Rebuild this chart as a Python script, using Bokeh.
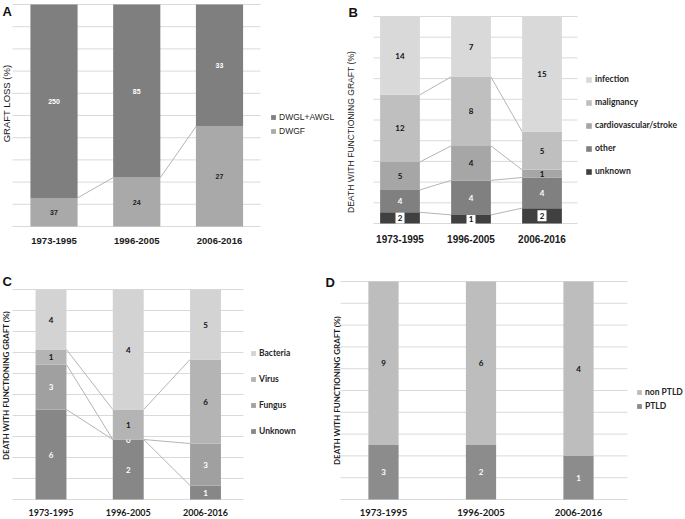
import math
from bokeh.plotting import figure
from bokeh.models import (ColumnDataSource, Range1d, Legend, LegendItem, Label)
from bokeh.layouts import row, column
from bokeh.embed import file_html
from bokeh.resources import INLINE
from bokeh.core.properties import value

# ---------------- data ----------------
periods = ["1973-1995", "1996-2005", "2006-2016"]
grid_ticks = [0, 10, 20, 30, 40, 50, 60, 70, 80, 90, 100]

# Panel A: graft loss
a_dwgf = [37, 24, 27]
a_dwgl_awgl = [250, 85, 33]

# Panel B: death with functioning graft, causes
b_unknown = [2, 1, 2]
b_other = [4, 4, 4]
b_cardio = [5, 4, 1]
b_malignancy = [12, 8, 5]
b_infection = [14, 7, 15]

# Panel C: infections
c_unknown = [6, 2, 1]
c_fungus = [3, 0, 3]
c_virus = [1, 1, 6]
c_bacteria = [4, 4, 5]

# Panel D: malignancy
d_ptld = [3, 2, 1]
d_non_ptld = [9, 6, 4]

ARIAL = "Liberation Sans"
CAL = "Lato"


def panel(letter, ytitle, series, fig, plot, grid_x, bar_w, cat, val, leg, yt,
          letter_pos, connect):
    """fig = (page_x0, page_y0, width, height); plot = (first bar centre x,
    bar spacing, top y, bottom y) in page pixels."""
    fx0, fy0, fw, fh = fig
    c0, sp, pt, pb = plot
    n = len(periods)
    idx = list(range(n))
    ppu = (pb - pt) / 100.0
    p = figure(width=fw, height=fh, title=None,
               x_range=Range1d((fx0 - c0) / sp, (fx0 + fw - c0) / sp),
               y_range=Range1d(-(fy0 + fh - pb) / ppu, 100 + (pt - fy0) / ppu),
               min_border=0, x_axis_location=None, y_axis_location=None,
               toolbar_location=None, output_backend="svg", tools="")
    p.outline_line_color = None
    p.grid.visible = False

    def sx(px):  # page x -> screen x inside this canvas
        return px - fx0

    def sy(py):  # page y -> screen y (from bottom) inside this canvas
        return fh - (py - fy0)

    # horizontal gridlines over the plot area
    gx0 = (grid_x[0] - c0) / sp
    gx1 = (grid_x[1] - c0) / sp
    p.segment(x0=[gx0] * len(grid_ticks), x1=[gx1] * len(grid_ticks),
              y0=grid_ticks, y1=grid_ticks, line_color="#dadada", line_width=1)

    totals = [sum(s[1][i] for s in series) for i in range(n)]
    cum = [0.0] * n
    bottoms, tops = [], []
    for s in series:
        b = list(cum)
        t = [cum[i] + 100.0 * s[1][i] / totals[i] for i in range(n)]
        bottoms.append(b)
        tops.append(t)
        cum = t

    # connector lines between bars
    for k in connect:
        t = tops[k]
        p.segment(x0=[i + bar_w / 2 for i in idx[:-1]], y0=t[:-1],
                  x1=[i + 1 - bar_w / 2 for i in idx[:-1]], y1=t[1:],
                  line_color="#b5b5b5", line_width=1)

    items = []
    for j, (name, counts, color, tcolor, boxed) in enumerate(series):
        src = ColumnDataSource(dict(x=idx, bottom=bottoms[j], top=tops[j],
                                    mid=[(bottoms[j][i] + tops[j][i]) / 2 for i in idx],
                                    lab=[str(c) for c in counts]))
        r = p.vbar(x="x", bottom="bottom", top="top", width=bar_w, source=src,
                   fill_color=color, line_color=None)
        items.append(LegendItem(label=name, renderers=[r]))
        if boxed:
            p.rect(x="x", y="mid", width=9, height=11, width_units="screen",
                   height_units="screen", source=src, fill_color="white",
                   line_color=None)
        p.text(x="x", y="mid", text="lab", source=src,
               text_align="center", text_baseline="middle",
               text_font=value(val[0]), text_font_size=val[1],
               text_font_style="bold", text_color=tcolor)

    # category labels under the bars
    p.text(x=idx, y=[0] * n, text=periods, y_offset=cat[2],
           text_align="center", text_baseline="middle",
           text_font=value(cat[0]), text_font_size=cat[1],
           text_font_style="bold", text_color="#1a1a1a")

    lfont, lsize, lstyle, lx, lbottom, lglyph, lh, lspace, lwidth = leg
    legend = Legend(items=list(reversed(items)), location=(sx(lx), sy(lbottom)),
                    glyph_width=lglyph, glyph_height=lglyph,
                    label_height=lh, label_width=lwidth, spacing=lspace,
                    padding=0, margin=0,
                    label_standoff=3, label_text_font=lfont,
                    label_text_font_size=lsize, label_text_font_style=lstyle,
                    label_text_color="#262626", border_line_color=None,
                    background_fill_alpha=0)
    p.add_layout(legend)

    yfont, ysize, ystyle, ycx, ycy = yt
    p.add_layout(Label(x=sx(ycx), y=sy(ycy), x_units="screen", y_units="screen",
                       text=ytitle, angle=math.pi / 2, text_align="center",
                       text_baseline="middle", text_font=yfont,
                       text_font_size=ysize, text_font_style=ystyle,
                       text_color="#1a1a1a"))
    p.add_layout(Label(x=sx(letter_pos[0]), y=sy(letter_pos[1]),
                       x_units="screen", y_units="screen",
                       text=letter, text_align="left", text_baseline="top",
                       text_font=ARIAL, text_font_size="13px",
                       text_font_style="bold", text_color="#111111"))
    return p


pa = panel("A", "GRAFT LOSS (%)",
           [("DWGF", a_dwgf, "#a9a9a9", "#222222", False),
            ("DWGL+AWGL", a_dwgl_awgl, "#7f7f7f", "#ffffff", False)],
           fig=(0, 0, 340, 260), plot=(53.5, 82.75, 4, 226), grid_x=(12, 260),
           bar_w=0.57,
           cat=(ARIAL, "9.5px", 14),
           val=(ARIAL, "7px"),
           leg=(ARIAL, "8.5px", "normal", 270, 136, 6, 8, 4, 50),
           yt=(ARIAL, "9.5px", "normal", 6, 103),
           letter_pos=(2, 3), connect=[0])

pb = panel("B", "DEATH WITH FUNCTIONING GRAFT (%)",
           [("unknown", b_unknown, "#404040", "#111111", True),
            ("other", b_other, "#808080", "#ffffff", False),
            ("cardiovascular/stroke", b_cardio, "#a6a6a6", "#111111", False),
            ("malignancy", b_malignancy, "#bfbfbf", "#111111", False),
            ("infection", b_infection, "#d9d9d9", "#111111", False)],
           fig=(340, 0, 344, 260), plot=(399.5, 71, 16, 223), grid_x=(373, 577),
           bar_w=0.56,
           cat=(ARIAL, "10px", 15),
           val=(CAL, "8px"),
           leg=(CAL, "8.6px", "bold", 585, 176, 7, 10, 13, 84),
           yt=(ARIAL, "8.6px", "normal", 350, 131.5),
           letter_pos=(348, 4), connect=[0, 1, 2, 3])

pc = panel("C", "DEATH WITH FUNCTIONING GRAFT (%)",
           [("Unknown", c_unknown, "#878787", "#ffffff", False),
            ("Fungus", c_fungus, "#a0a0a0", "#ffffff", False),
            ("Virus", c_virus, "#b4b4b4", "#111111", False),
            ("Bacteria", c_bacteria, "#d3d3d3", "#111111", False)],
           fig=(0, 260, 322, 258), plot=(50.5, 77.25, 289, 499), grid_x=(12, 243),
           bar_w=0.40,
           cat=(CAL, "9px", 13),
           val=(CAL, "8px"),
           leg=(CAL, "8.5px", "bold", 250, 436, 6, 10, 16, 45),
           yt=(CAL, "8px", "bold", 5, 385),
           letter_pos=(2, 273), connect=[0, 1, 2])

pd_ = panel("D", "DEATH WITH FUNCTIONING GRAFT (%)",
            [("PTLD", d_ptld, "#8c8c8c", "#ffffff", False),
             ("non PTLD", d_non_ptld, "#bdbdbd", "#111111", False)],
            fig=(322, 260, 362, 258), plot=(383, 97.5, 281, 499), grid_x=(340, 627),
            bar_w=0.31,
            cat=(CAL, "9.5px", 13),
            val=(CAL, "8px"),
            leg=(CAL, "8.5px", "bold", 636, 411, 6, 9, 4, 40),
            yt=(CAL, "8px", "bold", 336, 390),
            letter_pos=(325, 274), connect=[])

layout = column(row(pa, pb), row(pc, pd_))
open("out.html", "w").write(file_html(layout, INLINE))
